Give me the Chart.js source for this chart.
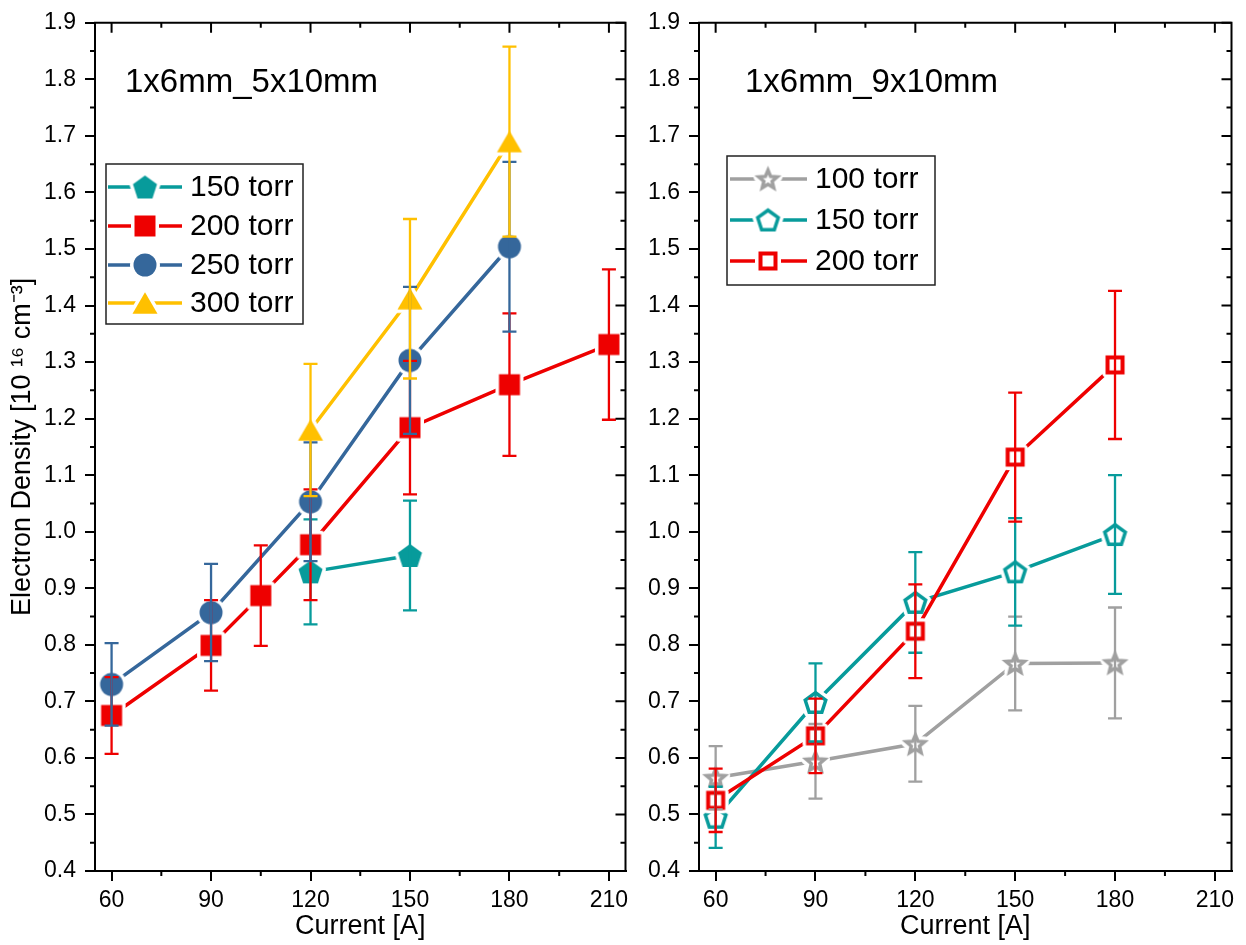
<!DOCTYPE html>
<html><head><meta charset="utf-8">
<script src="https://cdn.jsdelivr.net/npm/chart.js@4.4.1/dist/chart.umd.min.js"></script>
<style>
html,body{margin:0;padding:0;background:#fff;}
#wrap{position:relative;width:1246px;height:945px;background:#fff;}
canvas{position:absolute;top:0;}
</style></head><body>
<div id="wrap">
<canvas id="c1" width="640" height="945" style="left:0px"></canvas>
<canvas id="c2" width="606" height="945" style="left:640px"></canvas>
</div>
<script>
// ---------- tick labels ----------
const xTicks = [60, 90, 120, 150, 180, 210];
const xTickLabels = ['60', '90', '120', '150', '180', '210'];
const yTicks = [0.4, 0.5, 0.6, 0.7, 0.8, 0.9, 1.0, 1.1, 1.2, 1.3, 1.4, 1.5, 1.6, 1.7, 1.8, 1.9];
const yTickLabels = ['0.4','0.5','0.6','0.7','0.8','0.9','1.0','1.1','1.2','1.3','1.4','1.5','1.6','1.7','1.8','1.9'];

// ---------- left panel: 1x6mm_5x10mm ----------
const leftTitle = '1x6mm_5x10mm';
const leftLabels = ['150 torr', '200 torr', '250 torr', '300 torr'];
const l150X = [120, 150];
const l150Y = [0.929, 0.958];
const l150E = [0.093, 0.097];
const l200X = [60, 90, 105, 120, 150, 180, 210];
const l200Y = [0.675, 0.799, 0.887, 0.977, 1.184, 1.260, 1.331];
const l200E = [0.068, 0.080, 0.089, 0.098, 0.118, 0.126, 0.133];
const l250X = [60, 90, 120, 150, 180];
const l250Y = [0.730, 0.857, 1.053, 1.303, 1.504];
const l250E = [0.073, 0.086, 0.105, 0.130, 0.150];
const l300X = [120, 150, 180];
const l300Y = [1.180, 1.412, 1.690];
const l300E = [0.117, 0.141, 0.168];

// ---------- right panel: 1x6mm_9x10mm ----------
const rightTitle = '1x6mm_9x10mm';
const rightLabels = ['100 torr', '150 torr', '200 torr'];
const rX = [60, 90, 120, 150, 180];
const r100Y = [0.565, 0.594, 0.625, 0.767, 0.768];
const r100E = [0.056, 0.066, 0.067, 0.083, 0.098];
const r150Y = [0.495, 0.698, 0.875, 0.929, 0.995];
const r150E = [0.054, 0.069, 0.089, 0.095, 0.105];
const r200Y = [0.525, 0.639, 0.824, 1.132, 1.295];
const r200E = [0.056, 0.066, 0.083, 0.114, 0.131];

// ---------- styling ----------
const FONT = "'Liberation Sans', Arial, sans-serif";
const TEAL = '#079b9b', RED = '#ee0000', BLUE = '#35679b', YELLOW = '#ffc000', GRAY = '#a0a0a0';

function makeMarker(shape, color, filled, sz, stroke) {
  const halo = 3.5;
  stroke = stroke || 0;
  const dim = Math.ceil(sz + 2 * halo + 6);
  const c = document.createElement('canvas');
  c.width = dim; c.height = dim;
  const g = c.getContext('2d');
  const cx = dim / 2, cy = dim / 2;
  const inset = filled ? 0 : stroke / 2;
  const path = () => {
    g.beginPath();
    if (shape === 'square') {
      const h = sz / 2 - inset;
      g.rect(cx - h, cy - h, 2 * h, 2 * h);
    } else if (shape === 'circle') {
      g.arc(cx, cy, sz / 2 - inset, 0, Math.PI * 2);
    } else if (shape === 'triangle') {
      const R = (sz - 2 * inset) / 1.732;
      const oy = cy + 0.25 * R;
      g.moveTo(cx, oy - R);
      g.lineTo(cx + R * 0.866, oy + R / 2);
      g.lineTo(cx - R * 0.866, oy + R / 2);
    } else if (shape === 'pentagon') {
      const R = (sz - 2 * inset) / 1.902;
      const oy = cy + 0.0955 * R;
      for (let k = 0; k < 5; k++) {
        const a = -Math.PI / 2 + k * 2 * Math.PI / 5;
        const px = cx + R * Math.cos(a), py = oy + R * Math.sin(a);
        k ? g.lineTo(px, py) : g.moveTo(px, py);
      }
    } else if (shape === 'star') {
      const R = (sz - 2 * inset) / 1.902, r = R * 0.45;
      const oy = cy + 0.0955 * R;
      for (let k = 0; k < 10; k++) {
        const a = -Math.PI / 2 + k * Math.PI / 5;
        const rr = k % 2 ? r : R;
        const px = cx + rr * Math.cos(a), py = oy + rr * Math.sin(a);
        k ? g.lineTo(px, py) : g.moveTo(px, py);
      }
    }
    g.closePath();
  };
  path();
  g.lineJoin = 'round';
  g.strokeStyle = '#fff';
  g.lineWidth = 2 * halo + (filled ? 0 : stroke);
  g.stroke();
  path();
  if (filled) {
    g.fillStyle = color; g.fill();
  } else {
    g.fillStyle = '#fff'; g.fill();
    g.lineJoin = 'miter';
    g.strokeStyle = color; g.lineWidth = stroke; g.stroke();
  }
  return c;
}

function series(label, xs, ys, es, color, marker, order) {
  return {
    label: label,
    data: xs.map((x, i) => ({x: x, y: ys[i]})),
    errors: es,
    borderColor: color,
    backgroundColor: color,
    borderWidth: 3.5,
    tension: 0,
    pointStyle: marker,
    pointRadius: 11,
    order: order
  };
}

// ---------- plugins ----------
const errorBarPlugin = {
  id: 'errorBars',
  afterDatasetsDraw(chart) {
    const ctx = chart.ctx, xs = chart.scales.x, ys = chart.scales.y;
    chart.data.datasets.forEach((ds) => {
      ctx.save();
      ctx.strokeStyle = ds.borderColor;
      ctx.lineWidth = 2.3;
      ds.data.forEach((p, i) => {
        const e = ds.errors[i];
        const px = xs.getPixelForValue(p.x);
        const top = ys.getPixelForValue(p.y + e), bot = ys.getPixelForValue(p.y - e);
        ctx.beginPath();
        ctx.moveTo(px, top); ctx.lineTo(px, bot);
        ctx.moveTo(px - 7, top); ctx.lineTo(px + 7, top);
        ctx.moveTo(px - 7, bot); ctx.lineTo(px + 7, bot);
        ctx.stroke();
      });
      ctx.restore();
    });
  }
};

const framePlugin = {
  id: 'frame',
  afterDraw(chart) {
    const ctx = chart.ctx, a = chart.chartArea, xs = chart.scales.x, ys = chart.scales.y;
    ctx.save();
    ctx.strokeStyle = '#000';
    ctx.lineWidth = 2;
    ctx.beginPath();
    ctx.moveTo(a.left - 1, a.top); ctx.lineTo(a.right, a.top); ctx.lineTo(a.right, a.bottom + 1);
    ctx.stroke();
    const xMinor = xTicks.slice(0, -1).map((v, i) => (v + xTicks[i + 1]) / 2);
    const yMinor = yTicks.slice(0, -1).map((v, i) => (v + yTicks[i + 1]) / 2);
    ctx.beginPath();
    xTicks.forEach(v => { const p = xs.getPixelForValue(v); ctx.moveTo(p, a.top); ctx.lineTo(p, a.top + 10); });
    xMinor.forEach(v => {
      const p = xs.getPixelForValue(v);
      ctx.moveTo(p, a.top); ctx.lineTo(p, a.top + 5);
      ctx.moveTo(p, a.bottom); ctx.lineTo(p, a.bottom + 5);
    });
    yTicks.forEach(v => { const p = ys.getPixelForValue(v); ctx.moveTo(a.right, p); ctx.lineTo(a.right - 10, p); });
    yMinor.forEach(v => {
      const p = ys.getPixelForValue(v);
      ctx.moveTo(a.right, p); ctx.lineTo(a.right - 5, p);
      ctx.moveTo(a.left, p); ctx.lineTo(a.left - 5, p);
    });
    ctx.stroke();
    ctx.restore();
  }
};

const boxLegendPlugin = {
  id: 'boxLegend',
  afterDraw(chart, args, o) {
    if (!o || !o.rows) return;
    const ctx = chart.ctx;
    ctx.save();
    ctx.fillStyle = '#fff';
    ctx.fillRect(o.x, o.y, o.w, o.h);
    ctx.strokeStyle = '#222';
    ctx.lineWidth = 1.5;
    ctx.strokeRect(o.x, o.y, o.w, o.h);
    chart.data.datasets.forEach((ds, i) => {
      const y = o.rows[i];
      ctx.strokeStyle = ds.borderColor;
      ctx.lineWidth = 3.5;
      ctx.beginPath(); ctx.moveTo(o.x0, y); ctx.lineTo(o.x1, y); ctx.stroke();
      const img = ds.pointStyle;
      ctx.drawImage(img, o.mx - img.width / 2, y - img.height / 2);
      ctx.fillStyle = '#000';
      ctx.font = '30px ' + FONT;
      ctx.textBaseline = 'middle';
      ctx.textAlign = 'left';
      ctx.fillText(ds.label, o.tx, y + 1);
    });
    ctx.restore();
  }
};

const panelLabelPlugin = {
  id: 'panelLabel',
  afterDraw(chart, args, o) {
    if (!o || !o.text) return;
    const ctx = chart.ctx;
    ctx.save();
    ctx.fillStyle = '#000';
    ctx.font = '33px ' + FONT;
    ctx.textBaseline = 'alphabetic';
    ctx.textAlign = 'left';
    ctx.fillText(o.text, o.x, o.y);
    ctx.restore();
  }
};

function makeChart(id, datasets, cfg) {
  return new Chart(document.getElementById(id), {
    type: 'line',
    data: {datasets: datasets},
    options: {
      responsive: false,
      animation: false,
      events: [],
      layout: {padding: {top: 16, right: cfg.padRight, left: 0, bottom: 0}},
      plugins: {
        legend: {display: false},
        tooltip: {enabled: false},
        boxLegend: cfg.legend,
        panelLabel: cfg.label
      },
      scales: {
        x: {
          type: 'linear', min: 55, max: 215,
          afterBuildTicks: s => { s.ticks = xTicks.map(v => ({value: v})); },
          afterFit: s => { s.height = 74; },
          ticks: {
            callback: (v, i) => xTickLabels[i],
            font: {family: FONT, size: 23}, color: '#000', padding: 6,
            maxRotation: 0, autoSkip: false
          },
          grid: {display: true, drawOnChartArea: false, drawTicks: true, tickLength: 10,
                 tickWidth: 2, tickColor: '#000', color: '#000', lineWidth: 2},
          border: {display: true, color: '#000', width: 2},
          title: {display: true, text: 'Current [A]', color: '#000',
                  font: {family: FONT, size: 27}, padding: {top: 0, bottom: 2}}
        },
        y: {
          type: 'linear', min: 0.4, max: 1.9,
          afterBuildTicks: s => { s.ticks = yTicks.map(v => ({value: v})); },
          afterFit: s => { s.width = cfg.yWidth; },
          ticks: {
            callback: (v, i) => yTickLabels[i],
            font: {family: FONT, size: 23}, color: '#000', padding: 9,
            autoSkip: false
          },
          grid: {display: true, drawOnChartArea: false, drawTicks: true, tickLength: 10,
                 tickWidth: 2, tickColor: '#000', color: '#000', lineWidth: 2},
          border: {display: true, color: '#000', width: 2},
          title: cfg.yTitle
        }
      }
    },
    plugins: [errorBarPlugin, framePlugin, boxLegendPlugin, panelLabelPlugin]
  });
}

// ---------- left chart ----------
const mPentF = makeMarker('pentagon', TEAL, true, 24);
const mSqF = makeMarker('square', RED, true, 21);
const mCircF = makeMarker('circle', BLUE, true, 23);
const mTriF = makeMarker('triangle', YELLOW, true, 25);

makeChart('c1', [
  series(leftLabels[0], l150X, l150Y, l150E, TEAL, mPentF, 4),
  series(leftLabels[1], l200X, l200Y, l200E, RED, mSqF, 3),
  series(leftLabels[2], l250X, l250Y, l250E, BLUE, mCircF, 2),
  series(leftLabels[3], l300X, l300Y, l300E, YELLOW, mTriF, 1)
], {
  padRight: 12, yWidth: 95,
  yTitle: {display: true, text: 'Electron Density [10 \u00b9\u2076 cm\u207b\u00b3]', color: '#000',
           font: {family: FONT, size: 27}, padding: {top: 6, bottom: 0}},
  legend: {x: 106, y: 164, w: 197, h: 160, rows: [187, 226, 265, 303], x0: 108, x1: 182, mx: 145, tx: 190},
  label: {text: leftTitle, x: 125, y: 92}
});

// ---------- right chart ----------
const mStarO = makeMarker('star', GRAY, false, 22, 3.5);
const mPentO = makeMarker('pentagon', TEAL, false, 24, 3.5);
const mSqO = makeMarker('square', RED, false, 19, 4);

makeChart('c2', [
  series(rightLabels[0], rX, r100Y, r100E, GRAY, mStarO, 3),
  series(rightLabels[1], rX, r150Y, r150E, TEAL, mPentO, 2),
  series(rightLabels[2], rX, r200Y, r200E, RED, mSqO, 1)
], {
  padRight: 13, yWidth: 59,
  yTitle: {display: false},
  legend: {x: 87, y: 156, w: 208, h: 129, rows: [179, 220, 261], x0: 90, x1: 167, mx: 128, tx: 175},
  label: {text: rightTitle, x: 105, y: 92}
});
</script>
</body></html>
